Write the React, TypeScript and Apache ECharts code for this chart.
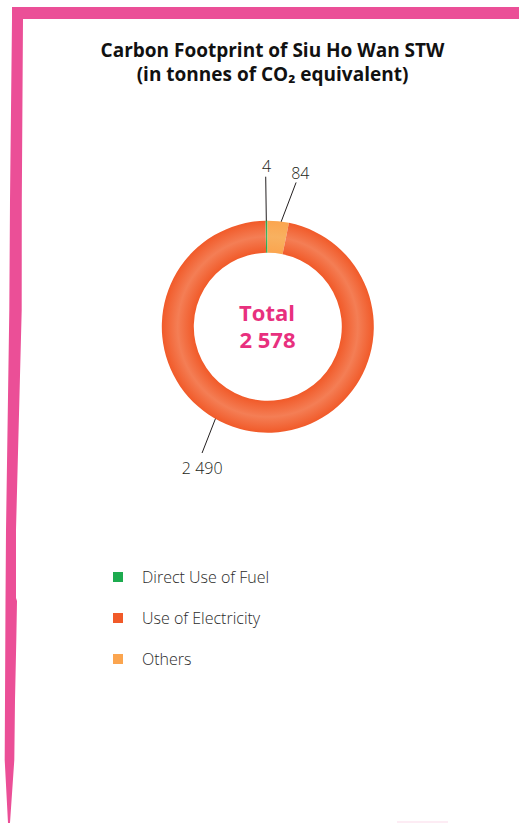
import React, { useEffect, useRef } from "react";
import * as echarts from "echarts";

// ---- data ----
const CATEGORIES = ["Direct Use of Fuel", "Use of Electricity", "Others"];
const VALUES = [4, 2490, 84];
// order of slices clockwise from the top (indices into CATEGORIES)
const PIE_ORDER = [0, 2, 1];
const TITLE_LINES = ["Carbon Footprint of Siu Ho Wan STW", "(in tonnes of CO\u2082 equivalent)"];
const CENTER_LABEL = "Total";

// ---- styling / geometry (not data) ----
const COLORS = ["#1DAB4F", "#F15A29", "#FBA54F"];
const MID_COLORS = ["#3DB862", "#F47E55", "#F8B160"];
const CX = 267.8;
const CY = 326.7;
const R_IN = 74;
const R_OUT = 106;
// label guide geometry per category (deg, radius)
const LINE_START = [[90.8, 104], [240, 101.6], [83.3, 101.7]];
const LINE_END = [[90.8, 150], [242.5, 142.4], [78.9, 147]];
const LABEL_POS = [[90.4, 160.7], [245.1, 155.8], [78.1, 157.4]];

const fmt = (v: number) => String(v).replace(/\B(?=(\d{3})+(?!\d))/g, " ");
const polar = (a: number, r: number) => {
  const t = (a * Math.PI) / 180;
  return [CX + r * Math.cos(t), CY - r * Math.sin(t)];
};

export default function App() {
  const ref = useRef<HTMLDivElement>(null);
  useEffect(() => {
    document.body.style.margin = "0";
    const chart = echarts.init(ref.current!, null, { renderer: "svg" });
    const total = VALUES.reduce((a, b) => a + b, 0);
    const ringColor = (i: number) => ({
      type: "radial",
      x: CX,
      y: CY,
      r: R_OUT,
      global: true,
      colorStops: [
        { offset: 0, color: COLORS[i] },
        { offset: R_IN / R_OUT, color: COLORS[i] },
        { offset: 0.85, color: MID_COLORS[i] },
        { offset: 1, color: COLORS[i] },
      ],
    });
    const pieData = PIE_ORDER.map((i) => ({
      name: CATEGORIES[i],
      value: VALUES[i],
      itemStyle: { color: ringColor(i) },
    }));
    const font = "'Open Sans', 'Noto Sans', sans-serif";
    chart.setOption({
      animation: false,
      backgroundColor: "#ffffff",
      legend: {
        orient: "vertical",
        left: 113,
        top: 567,
        padding: 0,
        itemWidth: 10,
        itemHeight: 10,
        itemGap: 21,
        icon: "rect",
        selectedMode: false,
        data: CATEGORIES.map((n, i) => ({ name: n, itemStyle: { color: COLORS[i] } })),
        textStyle: {
          fontFamily: font,
          fontSize: 16,
          fontWeight: 300,
          color: "#2b2b2b",
          lineHeight: 20,
          padding: [0, 0, 0, 14],
        },
      },
      series: [
        {
          type: "pie",
          center: [CX, CY],
          radius: [R_IN, R_OUT],
          startAngle: 91.3,
          clockwise: true,
          minAngle: 1.1,
          silent: true,
          data: pieData,
          label: {
            show: true,
            position: "outside",
            formatter: (p: any) => fmt(p.value),
            fontFamily: font,
            fontSize: 16,
            fontWeight: 300,
            color: "#231F20",
          },
          labelLine: {
            show: true,
            length: 30,
            length2: 0,
            lineStyle: { color: "#231F20", width: 1 },
          },
          labelLayout: (p: any) => {
            const i = PIE_ORDER[p.dataIndex];
            const s = polar(LINE_START[i][0], LINE_START[i][1]);
            const e = polar(LINE_END[i][0], LINE_END[i][1]);
            const l = polar(LABEL_POS[i][0], LABEL_POS[i][1]);
            return {
              x: l[0],
              y: l[1],
              align: "center",
              verticalAlign: "middle",
              labelLinePoints: [s, e, e],
            };
          },
        },
      ],
      graphic: [
        {
          type: "polygon",
          silent: true,
          shape: {
            points: [
              [12, 7], [519, 7], [519, 19], [23, 19], [21.8, 200], [21.7, 310],
              [16, 530], [16, 598], [17, 601], [16.3, 640], [15, 700], [14.3, 760],
              [10, 823], [8, 823], [4.7, 760], [5, 700], [5.5, 600], [6, 530],
              [9.3, 310], [10, 200], [12, 19],
            ],
          },
          style: { fill: "#EB4F97" },
        },
        {
          type: "line",
          silent: true,
          shape: { x1: 397, y1: 822, x2: 448, y2: 822 },
          style: { stroke: "#EB4F97", lineWidth: 1.5, opacity: 0.15 },
        },
        {
          type: "text",
          x: 272.5,
          y: 50,
          style: {
            text: TITLE_LINES[0],
            fontFamily: font,
            fontSize: 19,
            fontWeight: "bold",
            fill: "#111111",
            textAlign: "center",
            textVerticalAlign: "middle",
          },
        },
        {
          type: "text",
          x: 272.5,
          y: 73.5,
          style: {
            text: TITLE_LINES[1],
            fontFamily: font,
            fontSize: 19,
            fontWeight: "bold",
            fill: "#111111",
            textAlign: "center",
            textVerticalAlign: "middle",
          },
        },
        {
          type: "text",
          x: 267,
          y: 312,
          style: {
            text: CENTER_LABEL,
            fontFamily: font,
            fontSize: 22,
            fontWeight: "bold",
            fill: "#E8307E",
            textAlign: "center",
            textVerticalAlign: "middle",
          },
        },
        {
          type: "text",
          x: 267.5,
          y: 339,
          style: {
            text: fmt(total),
            fontFamily: font,
            fontSize: 22,
            fontWeight: "bold",
            fill: "#E8307E",
            textAlign: "center",
            textVerticalAlign: "middle",
          },
        },
      ],
    });
    return () => chart.dispose();
  }, []);
  return <div ref={ref} style={{ width: 519, height: 823 }} />;
}
